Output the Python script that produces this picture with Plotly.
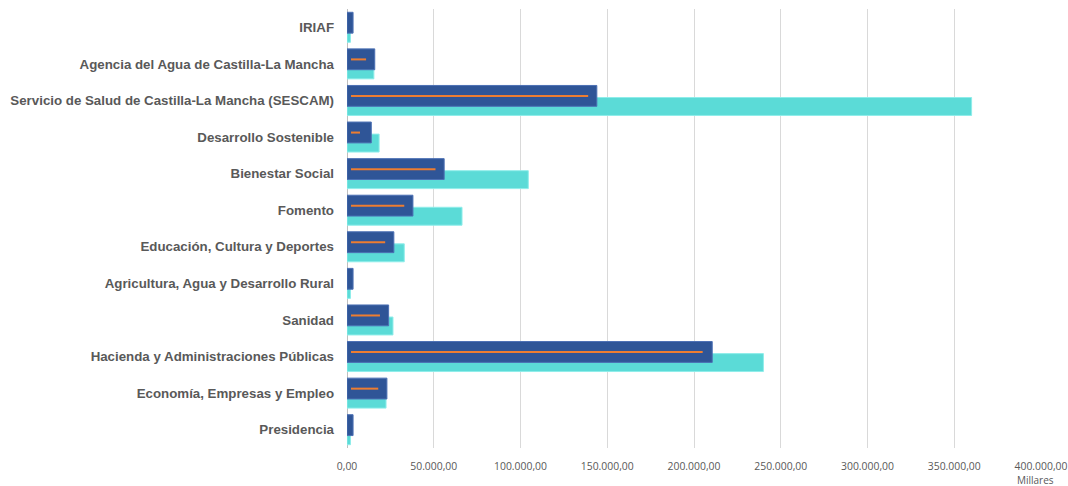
import plotly.graph_objects as go

categories = [
    "Presidencia",
    "Economía, Empresas y Empleo",
    "Hacienda y Administraciones Públicas",
    "Sanidad",
    "Agricultura, Agua y Desarrollo Rural",
    "Educación, Cultura y Deportes",
    "Fomento",
    "Bienestar Social",
    "Desarrollo Sostenible",
    "Servicio de Salud de Castilla-La Mancha (SESCAM)",
    "Agencia del Agua de Castilla-La Mancha",
    "IRIAF",
]

# values in thousands (Millares)
serie_azul = [3500, 23000, 210500, 24000, 3500, 27000, 38000, 56000, 14000, 144000, 16000, 3500]
serie_cian = [2000, 22500, 240000, 26500, 2000, 33000, 66300, 104500, 18500, 360000, 15500, 2000]
serie_naranja = [None, 18000, 205000, 19000, None, 22000, 33000, 51000, 7500, 139000, 11000, None]

tick_values = [0, 50000, 100000, 150000, 200000, 250000, 300000, 350000, 400000]


def fmt(v):
    s = f"{v:,.2f}"
    return s.replace(",", "X").replace(".", ",").replace("X", ".")


tick_text = [fmt(v) for v in tick_values]

fig = go.Figure()

fig.add_trace(go.Bar(
    y=categories, x=serie_cian, orientation="h",
    offset=-0.41, width=0.49,
    marker=dict(color="#5BDBD7", line=dict(color="#8FEDEA", width=1)),
    name="Serie 2", hoverinfo="x+y",
))
fig.add_trace(go.Bar(
    y=categories, x=serie_azul, orientation="h",
    offset=-0.16, width=0.57,
    marker=dict(color="#2F5597", line=dict(color="#4C70B4", width=1)),
    name="Serie 1", hoverinfo="x+y",
))
fig.add_trace(go.Bar(
    y=categories, x=[(v - 2300) if v is not None else None for v in serie_naranja],
    base=2300, orientation="h",
    offset=0.095, width=0.055,
    marker=dict(color="#ED7D31", line=dict(width=0)),
    name="Serie 3", hoverinfo="x+y",
))

fig.update_layout(
    width=1068, height=486,
    margin=dict(l=347, r=27, t=9, b=38),
    barmode="overlay",
    showlegend=False,
    plot_bgcolor="white",
    paper_bgcolor="white",
    font=dict(family="Liberation Sans, Arial", color="#595959"),
    annotations=[dict(
        text="Millares", xref="paper", yref="paper", x=0.992, y=0,
        xanchor="center", yanchor="middle", yshift=-32, showarrow=False,
        font=dict(family="Open Sans", size=10, color="#595959"),
    )],
)
fig.update_xaxes(
    range=[0, 400000], tickvals=tick_values, ticktext=tick_text,
    showgrid=True, gridcolor="#D9D9D9", gridwidth=1,
    zeroline=True, zerolinecolor="#BFBFBF", zerolinewidth=1,
    tickfont=dict(family="Open Sans", size=10.4, color="#595959"),
    ticklabelstandoff=11, fixedrange=True, automargin=False,
)
fig.update_yaxes(
    type="category", categoryorder="array", categoryarray=categories,
    range=[-0.5, 11.5], showgrid=False, zeroline=False,
    tickfont=dict(family="Liberation Sans, Arial", size=13.3, color="#595959", weight="bold"),
    ticklabelstandoff=12, fixedrange=True, automargin=False,
)

fig.write_html(
    "out.html",
    config={"displayModeBar": False},
    post_script="document.body.style.margin='0';document.body.style.overflow='hidden';",
)
